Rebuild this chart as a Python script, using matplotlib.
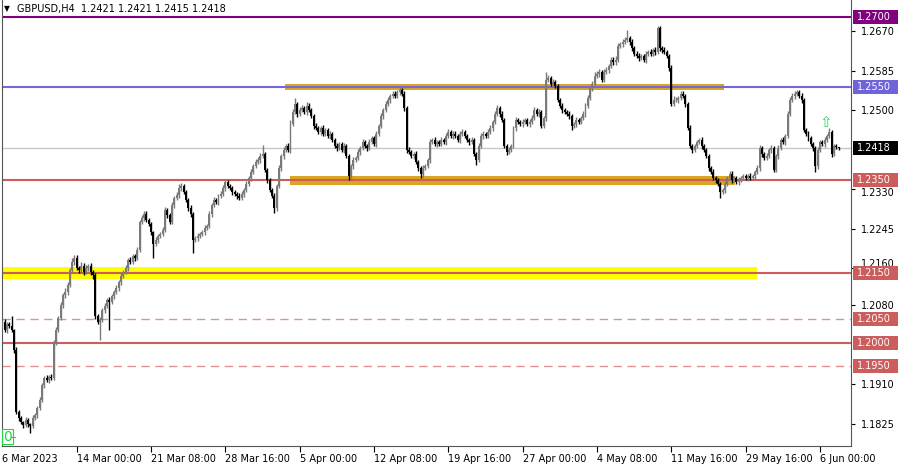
import numpy as np
import matplotlib
matplotlib.use('Agg')
import matplotlib.pyplot as plt
from matplotlib.patches import Rectangle
from matplotlib.transforms import blended_transform_factory, ScaledTranslation

plt.rcParams['font.family'] = ['DejaVu Sans']

# GBPUSD H4 closes, in pips (price * 10000)
close_pips = [
    12044, 12027, 12040, 12036, 12027, 11984, 11851, 11838, 11829, 11823,
    11834, 11825, 11821, 11838, 11844, 11859, 11877, 11909, 11924, 11920,
    11926, 11924, 12001, 12027, 12053, 12081, 12102, 12109, 12124, 12156,
    12173, 12182, 12160, 12156, 12165, 12152, 12160, 12165, 12152, 12145,
    12057, 12044, 12049, 12070, 12079, 12092, 12087, 12100, 12109, 12117,
    12130, 12143, 12152, 12160, 12178, 12173, 12186, 12182, 12199, 12259,
    12268, 12277, 12264, 12255, 12238, 12212, 12221, 12229, 12234, 12242,
    12285, 12274, 12259, 12296, 12311, 12317, 12332, 12337, 12324, 12307,
    12289, 12277, 12221, 12225, 12229, 12234, 12238, 12246, 12251, 12277,
    12296, 12307, 12302, 12315, 12320, 12332, 12345, 12337, 12332, 12324,
    12320, 12315, 12311, 12320, 12328, 12341, 12354, 12367, 12380, 12388,
    12393, 12401, 12406, 12371, 12350, 12328, 12315, 12289, 12337, 12375,
    12401, 12414, 12423, 12414, 12470, 12496, 12513, 12492, 12500, 12504,
    12496, 12509, 12500, 12487, 12466, 12461, 12453, 12461, 12449, 12457,
    12444, 12449, 12436, 12423, 12418, 12427, 12414, 12423, 12401, 12358,
    12380, 12393, 12397, 12410, 12418, 12431, 12423, 12418, 12431, 12440,
    12427, 12449, 12466, 12487, 12500, 12513, 12522, 12530, 12535, 12530,
    12539, 12543, 12535, 12504, 12414, 12410, 12401, 12406, 12388, 12375,
    12363, 12375, 12380, 12393, 12431, 12436, 12427, 12431, 12427, 12436,
    12431, 12444, 12453, 12444, 12449, 12444, 12436, 12449, 12453, 12444,
    12436, 12431, 12436, 12406, 12393, 12423, 12444, 12449, 12444, 12453,
    12461, 12474, 12492, 12504, 12492, 12479, 12423, 12410, 12414, 12423,
    12461, 12479, 12474, 12470, 12474, 12479, 12470, 12474, 12483, 12500,
    12492, 12496, 12466, 12483, 12565, 12569, 12556, 12560, 12552, 12522,
    12509, 12500, 12496, 12492, 12487, 12466, 12470, 12479, 12474, 12483,
    12492, 12509, 12526, 12547, 12556, 12573, 12578, 12582, 12565, 12582,
    12586, 12595, 12608, 12603, 12608, 12638, 12642, 12646, 12651, 12655,
    12646, 12633, 12621, 12616, 12612, 12616, 12608, 12621, 12625, 12621,
    12629, 12625, 12677, 12633, 12629, 12625, 12616, 12590, 12513, 12522,
    12522, 12526, 12535, 12530, 12513, 12461, 12423, 12414, 12423, 12431,
    12436, 12423, 12414, 12401, 12375, 12367, 12354, 12350, 12341, 12324,
    12328, 12341, 12354, 12363, 12350, 12354, 12345, 12350, 12354, 12358,
    12354, 12358, 12354, 12358, 12367, 12375, 12418, 12406, 12397, 12401,
    12414, 12418, 12371, 12401, 12418, 12436, 12431, 12444, 12492, 12522,
    12530, 12535, 12539, 12530, 12522, 12457, 12449, 12440, 12427, 12418,
    12380, 12414, 12431, 12427, 12436, 12444, 12453, 12406, 12423, 12421, 12418,
]
first_open_pips = 12036

# wick lengths above / below the body, in pips
up_wick = [
    4, 6, 5, 4, 21, 3, 6, 4, 5, 3,   5, 4, 3, 6, 4, 5, 6, 4, 5, 7,
    4, 6, 5, 7, 4, 6, 5, 8, 6, 5,    9, 7, 6, 5, 8, 6, 7, 5, 6, 4,
    5, 4, 6, 5, 7, 4, 6, 5, 4, 6,    5, 6, 4, 7, 5, 6, 4, 5, 6, 5,
    7, 5, 6, 4, 5, 3, 6, 5, 4, 6,    6, 5, 4, 7, 5, 6, 8, 6, 5, 4,
    5, 6, 4, 5, 6, 4, 5, 6, 5, 7,    5, 6, 4, 5, 6, 7, 6, 5, 4, 5,
    5, 4, 6, 5, 4, 6, 5, 7, 5, 6,    6, 7, 19, 4, 5, 4, 5, 6, 5, 7,
    4, 6, 5, 6, 8, 6, 13, 5, 6, 7,   5, 8, 6, 4, 5, 6, 4, 5, 6, 5,
    5, 6, 4, 5, 6, 5, 4, 6, 5, 4,    5, 6, 4, 6, 5, 7, 5, 4, 6, 5,
    4, 6, 5, 6, 5, 7, 6, 5, 6, 5,    5, 6, 4, 5, 4, 6, 5, 4, 6, 5,
    4, 6, 5, 4, 7, 5, 6, 4, 5, 6,    5, 6, 7, 4, 5, 6, 5, 7, 6, 5,
    5, 4, 6, 5, 4, 7, 6, 5, 4, 6,    6, 5, 7, 8, 5, 6, 4, 5, 6, 5,
    5, 6, 4, 5, 6, 5, 4, 6, 7, 6,    5, 6, 4, 5, 17, 6, 5, 7, 5, 4,
    5, 6, 4, 5, 6, 4, 5, 6, 5, 4,    5, 6, 7, 5, 6, 8, 6, 7, 5, 6,
    6, 5, 7, 6, 8, 6, 5, 7, 6, 17,   5, 6, 4, 5, 6, 5, 4, 6, 5, 6,
    5, 6, 4, 3, 5, 6, 4, 5, 6, 8,    6, 5, 7, 6, 5, 4, 6, 5, 4, 5,
    5, 6, 4, 5, 4, 5, 6, 4, 5, 4,    5, 6, 4, 5, 6, 4, 5, 6, 5, 4,
    5, 4, 6, 5, 4, 6, 7, 5, 4, 6,    5, 6, 4, 5, 6, 5, 6, 5, 7, 6,
    6, 5, 4, 5, 6, 5, 4, 6, 5, 4,    5, 6, 5, 4, 6, 5, 8, 4, 5, 4, 0,
]
down_wick = [
    5, 4, 6, 5, 4, 6, 5, 7, 4, 6,    5, 6, 15, 4, 5, 6, 4, 5, 6, 5,
    6, 5, 4, 6, 5, 4, 6, 5, 6, 5,    5, 6, 4, 7, 5, 6, 5, 7, 6, 8,
    6, 5, 38, 5, 6, 4, 60, 5, 6, 4,  5, 6, 4, 5, 6, 4, 5, 6, 4, 5,
    5, 6, 4, 5, 6, 30, 5, 6, 4, 5,   5, 6, 4, 5, 6, 4, 5, 6, 4, 5,
    5, 6, 28, 5, 6, 4, 5, 6, 4, 5,   6, 5, 4, 6, 5, 4, 6, 5, 4, 6,
    5, 6, 4, 5, 6, 4, 5, 6, 4, 5,    5, 6, 4, 5, 6, 4, 5, 10, 6, 5,
    5, 6, 4, 5, 6, 4, 5, 6, 4, 5,    5, 6, 4, 5, 6, 4, 5, 6, 4, 5,
    5, 6, 4, 5, 6, 4, 5, 6, 4, 8,    5, 6, 4, 5, 6, 4, 5, 6, 4, 5,
    5, 6, 4, 5, 6, 4, 5, 6, 4, 5,    5, 6, 4, 5, 6, 4, 5, 6, 4, 5,
    9, 6, 4, 5, 6, 4, 5, 6, 4, 5,    5, 6, 4, 5, 6, 4, 5, 6, 4, 5,
    5, 6, 4, 5, 12, 4, 5, 6, 4, 5,   5, 6, 4, 5, 6, 4, 5, 6, 4, 5,
    5, 6, 4, 5, 6, 4, 5, 6, 4, 5,    5, 6, 4, 5, 6, 4, 5, 6, 4, 5,
    5, 6, 4, 5, 6, 8, 5, 6, 4, 5,    5, 6, 4, 5, 6, 4, 5, 6, 4, 5,
    5, 6, 4, 5, 6, 4, 5, 6, 4, 5,    5, 6, 4, 5, 6, 4, 5, 6, 4, 5,
    5, 6, 4, 5, 6, 4, 5, 6, 4, 5,    5, 6, 4, 5, 6, 4, 5, 6, 4, 5,
    5, 6, 4, 5, 6, 4, 5, 6, 4, 13,   5, 6, 4, 5, 6, 4, 5, 6, 4, 5,
    5, 6, 4, 5, 6, 4, 5, 6, 4, 5,    5, 6, 4, 5, 6, 4, 5, 6, 4, 5,
    5, 6, 4, 5, 6, 4, 5, 6, 4, 5,    13, 6, 4, 5, 6, 4, 5, 6, 4, 5, 3,
]

tick_labels = ['6 Mar 2023', '14 Mar 00:00', '21 Mar 08:00', '28 Mar 16:00',
               '5 Apr 00:00', '12 Apr 08:00', '19 Apr 16:00', '27 Apr 00:00',
               '4 May 08:00', '11 May 16:00', '29 May 16:00', '6 Jun 00:00']
tick_bars = [0, 32, 64, 96, 128, 160, 192, 224, 256, 288, 320, 352]
# 1.2415 and 1.1995 sit fully under the price boxes, so they are left out
price_ticks = [1.2670, 1.2585, 1.2500, 1.2330, 1.2245, 1.2160,
               1.2080, 1.1910, 1.1825]

# horizontal levels: price, colour, style
levels = [
    (1.2700, '#800080', '-'),
    (1.2550, '#7566e0', '-'),
    (1.2350, '#cd5c5c', '-'),
    (1.2150, '#cd5c5c', '-'),
    (1.2050, '#e39090', (0, (6, 4))),
    (1.2000, '#cd5c5c', '-'),
    (1.1950, '#e39090', (0, (6, 4))),
]
box_colors = {1.2700: '#800080', 1.2550: '#7062d8', 1.2350: '#cd5c5c',
              1.2150: '#cd5c5c', 1.2050: '#cd5c5c', 1.2000: '#cd5c5c',
              1.1950: '#cd5c5c'}
last_price = 1.2418

# zones: (first bar, last bar, low, high, colour)
zones = [
    (-1.0, 324.8, 1.2137, 1.2163, '#ffff00'),
    (121.6, 310.6, 1.2543, 1.2556, '#daa520'),
    (123.8, 315.4, 1.2339, 1.2358, '#daa520'),
]

close = np.array(close_pips) / 10000
opens = np.concatenate([[first_open_pips / 10000], close[:-1]])
high = np.maximum(opens, close) + np.array(up_wick) / 10000
low = np.minimum(opens, close) - np.array(down_wick) / 10000
idx = np.arange(len(close))
up = close >= opens

fig = plt.figure(figsize=(9, 4.65), dpi=100)
ax = fig.add_axes([2 / 900, 19 / 465, 849 / 900, 446 / 465])
ax.set_xlim(-0.2, 365.3)
ax.set_ylim(1.17777, 1.27367)

for x0, x1, lo, hi, col in zones:
    ax.add_patch(Rectangle((x0, lo), x1 - x0, hi - lo, facecolor=col,
                           edgecolor='none', zorder=1))

ax.axhline(last_price, color='#c8c8c8', lw=1, zorder=1.5)
for price, col, ls in levels:
    lw = 1.0 if ls != '-' else 1.5
    ax.axhline(price, color=col, lw=lw, ls=ls, zorder=1.6)

bull_col = '#7a7a7a'
bear_col = '#000000'
colors = np.where(up, bull_col, bear_col)
ax.vlines(idx, low, high, colors=colors, lw=1.0, zorder=3)
body = np.maximum(np.abs(close - opens), 0.00005)
ax.bar(idx, body, bottom=np.minimum(opens, close), width=0.85,
       color=colors, edgecolor='none', zorder=3.1)

# green arrow and the "0" marker
ax.text(354.5, 1.2474, '\u21e7', color='#2fd86a', fontsize=11,
        ha='center', va='center', zorder=4)
ax.text(0.3, 1.1798, '0', color='#1ed44a', fontsize=10, ha='left',
        va='center', zorder=4,
        bbox=dict(boxstyle='square,pad=0.05', fc='none', ec='#1ed44a', lw=0.8))
ax.plot([3.6, 5.6], [1.1798, 1.1798], color='#1ed44a', lw=0.8, zorder=4)

# axes style
ax.spines['top'].set_visible(False)
for side in ['left', 'right', 'bottom']:
    ax.spines[side].set_color('#555555')
    ax.spines[side].set_linewidth(0.8)

ax.yaxis.tick_right()
ax.set_yticks(price_ticks)
ax.set_yticklabels([f'{p:.4f}' for p in price_ticks])
ax.tick_params(axis='y', length=3, pad=4, labelsize=7, colors='#000000')
ax.set_xticks(tick_bars)
ax.set_xticklabels(tick_labels)
ax.tick_params(axis='x', length=4, pad=2, labelsize=7)
for lab in ax.get_xticklabels():
    lab.set_ha('left')
ax.xaxis.get_major_ticks()[0].tick1line.set_visible(False)

# nudge labels that would sit under a price box
for lab, p in zip(ax.get_yticklabels(), price_ticks):
    if p == 1.2160:
        lab.set_transform(lab.get_transform() +
                          ScaledTranslation(0, 4 / 72, fig.dpi_scale_trans))
    if p == 1.2330:
        lab.set_transform(lab.get_transform() +
                          ScaledTranslation(0, -2 / 72, fig.dpi_scale_trans))

# price boxes on the right scale
trans = blended_transform_factory(fig.transFigure, ax.transData)
box_h = 14 / 4651
for price, col in list(box_colors.items()) + [(last_price, '#000000')]:
    ax.add_patch(Rectangle((853 / 900, price - box_h / 2), 45 / 900, box_h,
                           transform=trans, facecolor=col, edgecolor='none',
                           clip_on=False, zorder=5))
    ax.text(857 / 900, price, f'{price:.4f}', transform=trans, color='white',
            fontsize=7, ha='left', va='center', clip_on=False, zorder=6)

# title
fig.text(4 / 900, 1 - 9 / 465, '\u25bc', fontsize=5.5, va='center', ha='left')
fig.text(17 / 900, 1 - 9 / 465, 'GBPUSD,H4  1.2421 1.2421 1.2415 1.2418',
         fontsize=7, va='center', ha='left')

fig.savefig('out.png', dpi=100)
